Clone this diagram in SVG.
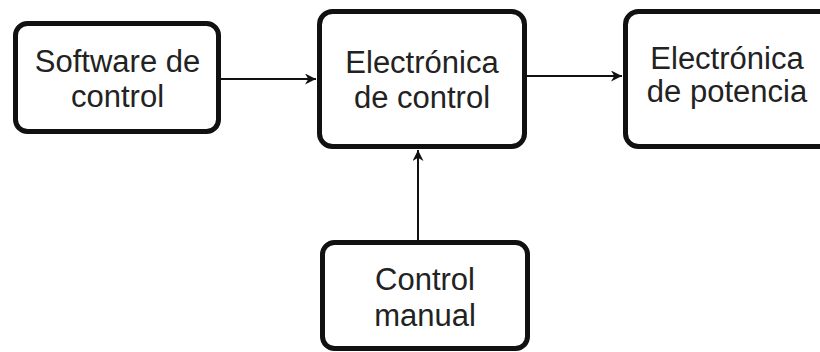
<svg xmlns="http://www.w3.org/2000/svg" width="820" height="352" viewBox="0 0 820 352">
  <defs>
    <style>
      .box { fill: #ffffff; stroke: #111111; stroke-width: 5; }
      .label { font-family: "Liberation Sans", Arial, sans-serif; font-size: 31px; fill: #222222; text-anchor: middle; }
      .wire { fill: none; stroke: #111111; stroke-width: 2; }
    </style>
    <marker id="arrow" viewBox="0 0 10 10" refX="10" refY="5" markerWidth="11" markerHeight="11" markerUnits="userSpaceOnUse" orient="auto">
      <path d="M0,0 L10,5 L0,10 L3,5 Z" fill="#111111"/>
    </marker>
  </defs>
  <rect width="820" height="352" fill="#ffffff"/>

  <g id="connectors">
    <line class="wire" x1="221" y1="79" x2="316" y2="79" marker-end="url(#arrow)"/>
    <line class="wire" x1="527" y1="76" x2="622" y2="76" marker-end="url(#arrow)"/>
    <line class="wire" x1="418" y1="241" x2="418" y2="150" marker-end="url(#arrow)"/>
  </g>

  <g id="software-control">
    <rect class="box" x="15.5" y="23.5" width="203" height="108" rx="12"/>
    <text class="label" x="117.5" y="72">Software de</text>
    <text class="label" x="117.5" y="107">control</text>
  </g>

  <g id="electronica-control">
    <rect class="box" x="319.5" y="11.5" width="205" height="135" rx="13"/>
    <text class="label" x="422" y="73">Electrónica</text>
    <text class="label" x="422" y="108">de control</text>
  </g>

  <g id="electronica-potencia">
    <rect class="box" x="625.5" y="11.5" width="220" height="135" rx="13"/>
    <text class="label" x="727" y="69">Electrónica</text>
    <text class="label" x="727" y="102">de potencia</text>
  </g>

  <g id="control-manual">
    <rect class="box" x="322.5" y="242.5" width="205" height="106" rx="12"/>
    <text class="label" x="425" y="290">Control</text>
    <text class="label" x="425" y="326">manual</text>
  </g>
</svg>
